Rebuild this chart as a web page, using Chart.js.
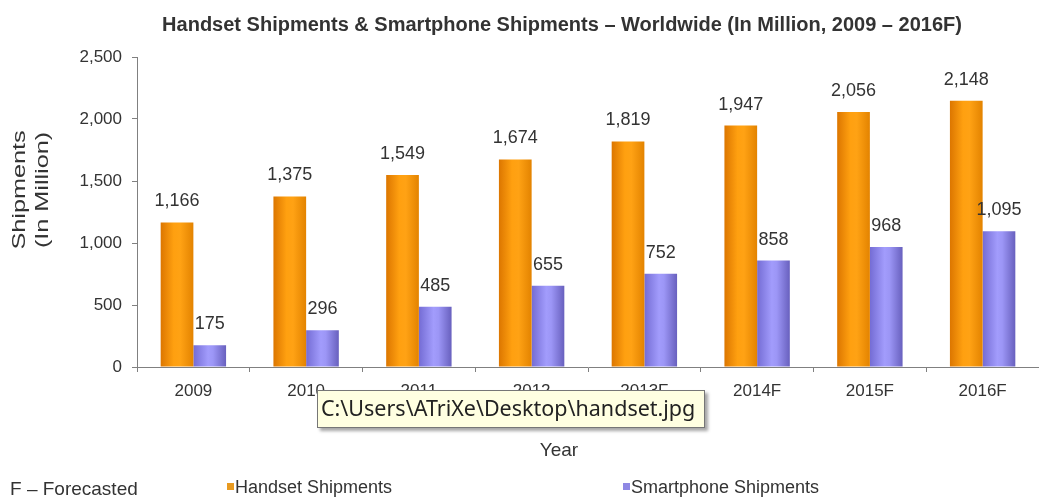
<!DOCTYPE html>
<html>
<head>
<meta charset="utf-8">
<title>Handset Shipments & Smartphone Shipments</title>
<script src="https://cdn.jsdelivr.net/npm/chart.js@4/dist/chart.umd.min.js"></script>
<style>
    body { margin: 0; background: #fff; }
    #wrap { position: relative; width: 1039px; height: 499px; }
    #tip {
        position: absolute; left: 317px; top: 390px; width: 388px; height: 38px;
        box-sizing: border-box; background: #FFFFE1; border: 1px solid #767676;
        box-shadow: 3px 3px 3px rgba(0, 0, 0, 0.35);
        font: 21.5px 'Noto Sans', sans-serif; color: #222; line-height: 34px; padding-left: 3px;
        white-space: nowrap; overflow: hidden;
    }
</style>
</head>
<body>
<div id="wrap">
    <canvas id="shipmentsChart" width="1039" height="499"></canvas>
    <div id="tip">C:\Users\ATriXe\Desktop\handset.jpg</div>
</div>
<script>
// datos del grafico
const years = ['2009', '2010', '2011', '2012', '2013F', '2014F', '2015F', '2016F'];
const handsetShipments = [1166, 1375, 1549, 1674, 1819, 1947, 2056, 2148];
const smartphoneShipments = [175, 296, 485, 655, 752, 858, 968, 1095];
const yTicks = [0, 500, 1000, 1500, 2000, 2500];

const chartTitle = 'Handset Shipments & Smartphone Shipments \u2013 Worldwide (In Million, 2009 \u2013 2016F)';
const yTitle = ['Shipments', '(In Million)'];
const xTitle = 'Year';
const footNote = 'F \u2013 Forecasted';

const CAT_PCT = 0.58;
const BAR_PCT = 1.0;
const FONT = "'Liberation Sans', Arial, sans-serif";

// degradado horizontal por barra, calculado con la escala x
function barGradient(stops, solid) {
    return (c) => {
        const x = c.chart.scales.x;
        if (!x || c.dataIndex == null) return solid;
        const catW = x.getPixelForValue(1) - x.getPixelForValue(0);
        const barW = catW * CAT_PCT * BAR_PCT / 2;
        const left = x.getPixelForValue(c.dataIndex) + (c.datasetIndex - 1) * barW;
        if (!isFinite(left) || !isFinite(barW) || barW <= 0) return solid; // ** escala aun sin calcular
        const g = c.chart.ctx.createLinearGradient(left, 0, left + barW, 0);
        stops.forEach(s => g.addColorStop(s[0], s[1]));
        return g;
    };
}

const orangeStops = [[0, '#DC7600'], [0.4, '#FFA010'], [0.6, '#FFA214'], [1, '#E38300']];
const purpleStops = [[0, '#746CD4'], [0.45, '#A29CFC'], [0.6, '#9C96F6'], [1, '#6860BE']];

// etiquetas, titulos y leyenda dibujados a mano
const extrasPlugin = {
    id: 'extras',
    afterDatasetsDraw(chart) {
        const ctx = chart.ctx;
        ctx.save();
        ctx.fillStyle = '#333';
        ctx.font = '18px ' + FONT;
        ctx.textAlign = 'center';
        ctx.textBaseline = 'middle';
        chart.data.datasets.forEach((ds, di) => {
            chart.getDatasetMeta(di).data.forEach((el, i) => {
                ctx.fillText(ds.data[i].toLocaleString('en-US'), el.x, el.y - 21);
            });
        });
        ctx.restore();
    },
    afterDraw(chart) {
        const ctx = chart.ctx;
        ctx.save();
        ctx.fillStyle = '#333';

        // titulo principal
        ctx.font = 'bold 20px ' + FONT;
        ctx.textAlign = 'center';
        ctx.textBaseline = 'alphabetic';
        ctx.fillText(chartTitle, 562, 31);

        // titulo eje y (estirado como en la imagen original)
        ctx.font = '18px ' + FONT;
        ctx.textBaseline = 'middle';
        [20, 43].forEach((xPos, k) => {
            ctx.save();
            ctx.translate(xPos, 190);
            ctx.rotate(-Math.PI / 2);
            ctx.scale(1.4, 1);
            ctx.fillText(yTitle[k], 0, 0);
            ctx.restore();
        });

        // titulo eje x
        ctx.font = '19px ' + FONT;
        ctx.fillText(xTitle, 559, 451);

        // leyenda
        ctx.textAlign = 'left';
        ctx.font = '19px ' + FONT;
        ctx.fillText(footNote, 10, 490);
        ctx.font = '18px ' + FONT;
        const legendPos = [227, 623];
        const legendColors = ['#E89A20', '#8F88E4'];
        chart.data.datasets.forEach((ds, di) => {
            ctx.fillStyle = legendColors[di];
            ctx.fillRect(legendPos[di], 483, 7, 7);
            ctx.fillStyle = '#333';
            ctx.fillText(ds.label, legendPos[di] + 8, 488);
        });
        ctx.restore();
    }
};

const chart = new Chart(document.getElementById('shipmentsChart'), {
    type: 'bar',
    data: {
        labels: years,
        datasets: [{
            label: 'Handset Shipments',
            data: handsetShipments,
            backgroundColor: barGradient(orangeStops, '#F39200'),
            categoryPercentage: CAT_PCT,
            barPercentage: BAR_PCT
        }, {
            label: 'Smartphone Shipments',
            data: smartphoneShipments,
            backgroundColor: barGradient(purpleStops, '#8B85EA'),
            categoryPercentage: CAT_PCT,
            barPercentage: BAR_PCT
        }]
    },
    options: {
        responsive: false,
        animation: false,
        layout: { padding: { top: 57, right: 0, bottom: 0, left: 0 } },
        plugins: {
            legend: { display: false },
            title: { display: false },
            tooltip: { enabled: false }
        },
        scales: {
            x: {
                afterFit: (s) => { s.height = 132; },
                grid: { drawOnChartArea: false, drawTicks: true, tickLength: 5, color: '#808080' },
                border: { color: '#808080' },
                ticks: { color: '#333', font: { size: 17, family: FONT }, padding: 9, maxRotation: 0 }
            },
            y: {
                min: yTicks[0],
                max: yTicks[yTicks.length - 1],
                afterFit: (s) => { s.width = 137; },
                afterBuildTicks: (s) => { s.ticks = yTicks.map(v => ({ value: v })); },
                grid: { drawOnChartArea: false, drawTicks: true, tickLength: 5, color: '#808080' },
                border: { color: '#808080' },
                ticks: { color: '#333', font: { size: 17, family: FONT }, padding: 10 }
            }
        }
    },
    plugins: [extrasPlugin]
});
chart.update(); // ** segundo pase para que los degradados usen la escala ya calculada
</script>
</body>
</html>
